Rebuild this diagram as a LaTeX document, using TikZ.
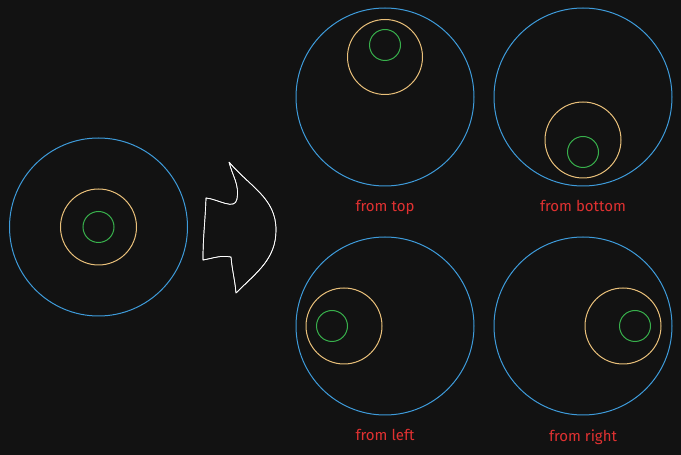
\documentclass[tikz,border=0pt]{standalone}
\usepackage{fontspec}
\setmainfont{Fira Sans}
\usetikzlibrary{positioning}

\begin{document}
\begin{tikzpicture}[
    x=1pt, y=1pt,
    every path/.style={line width=1pt},
    ring/.style={draw, circle, inner sep=0pt, minimum size=#1},
    lbl/.style={text=rdx, font=\fontsize{15}{17}\selectfont}
]
    \definecolor{blx}{HTML}{3E9BDA}
    \definecolor{orx}{HTML}{E9C07A}
    \definecolor{grx}{HTML}{38B04C}
    \definecolor{rdx}{HTML}{E03131}
    \definecolor{bgx}{HTML}{121212}

    \fill [bgx] (0,0) rectangle (681,455);
    \useasboundingbox (0,0) rectangle (681,455);

    % original
    \node [ring=178, blx] (o) at (98.5,228) {};
    \node [ring=76, orx] (om) at (98.5,228) {};
    \node [ring=31, grx] (oi) at (98.5,228) {};

    % from top
    \node [ring=178, blx] (t) at (385,358) {};
    \node [ring=75, orx] (tm) at (385,398) {};
    \node [ring=31, grx] (ti) at (385,410) {};
    \node [lbl, below=10pt of t] (tl) {from top};

    % from bottom
    \node [ring=178, blx] (b) at (583,358) {};
    \node [ring=76, orx] (bm) at (583,315) {};
    \node [ring=31, grx] (bi) at (583,303) {};
    \node [lbl, below=10pt of b] (bl) {from bottom};

    % from left
    \node [ring=178, blx] (l) at (385,129) {};
    \node [ring=76, orx] (lm) at (344,129) {};
    \node [ring=31, grx] (li) at (332,129) {};
    \node [lbl, below=10pt of l] (ll) {from left};

    % from right
    \node [ring=178, blx] (r) at (583,129) {};
    \node [ring=76, orx] (rm) at (623,129) {};
    \node [ring=31, grx] (ri) at (635,129) {};
    \node [lbl, below=10pt of r] (rl) {from right};

    % arrow
    \coordinate (a) at (229,293);
    \coordinate (ab) at (237,256);
    \coordinate (ac) at (206,257);
    \coordinate (ad) at (203,195);
    \coordinate (ae) at (231,198);
    \coordinate (af) at (236,162);
    \coordinate (ag) at (276,225);
    \foreach \dx/\dy in {0/0, 1.6/-1} {
    \draw [white, shift={(\dx,\dy)}, line width=0.7pt, line join=round] (a)
        to [out=-76,in=80] (ab)
        to [out=-100,in=-5] (ac)
        to [out=-92,in=90] (ad)
        to [out=10,in=170] (ae)
        to [out=-85,in=95] (af)
        to [out=45,in=-90] (ag)
        to [out=90,in=-50] (a)
    ;
    }
\end{tikzpicture}
\end{document}
